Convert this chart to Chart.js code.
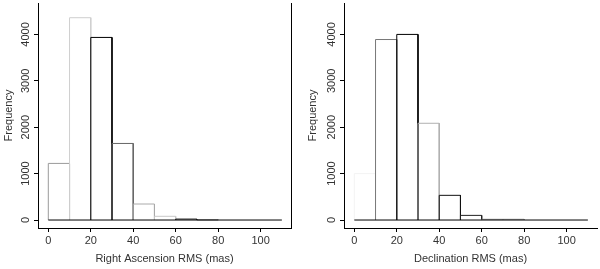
<!DOCTYPE html>
<html>
<head>
  <title>RMS histograms</title>
  <script src="https://cdn.jsdelivr.net/npm/chart.js@4.4.0/dist/chart.umd.min.js"></script>
  <style>
    body { margin: 0; background: #fff; }
    .wrap { display: flex; width: 600px; height: 269px; }
    .box { position: relative; width: 300px; height: 269px; }
  </style>
</head>
<body>
  <div class="wrap">
    <div class="box"><canvas id="ra"></canvas></div>
    <div class="box"><canvas id="dec"></canvas></div>
  </div>

  <script>
// histogram bins (mas) and counts
var binEdges = [0, 10, 20, 30, 40, 50, 60, 70, 80, 90, 100, 110];
var raCounts = [1220, 4360, 3935, 1650, 345, 80, 20, 3, 0, 0, 0];
var decCounts = [1000, 3890, 4000, 2085, 532, 100, 15, 15, 0, 0, 0];

// outline shade of each bar as it shows in the picture
var raEdgeColors = ["#9a9a9a", "#cfcfcf", "#000000", "#666666", "#aaaaaa", "#c8c8c8", "#111111", "#555555", "#000", "#000", "#000"];
var decEdgeColors = ["#f3f3f3", "#777777", "#000000", "#b0b0b0", "#111111", "#222222", "#888888", "#888888", "#000", "#000", "#000"];

var xTicks = [0, 20, 40, 60, 80, 100];
var yTicks = [0, 1000, 2000, 3000, 4000];

var FONT = "'Liberation Sans', Arial, sans-serif";
var TEXT = "#333";

// draws the rotated y tick labels the way R does
var yLabelPlugin = {
  id: "yLabels",
  afterDraw: function(chart) {
    var s = chart.scales.y;
    var ctx = chart.ctx;
    ctx.save();
    ctx.font = "11px " + FONT;
    ctx.fillStyle = TEXT;
    ctx.textAlign = "center";
    ctx.textBaseline = "middle";
    yTicks.forEach(function(v) {
      var y = s.getPixelForValue(v);
      ctx.save();
      ctx.translate(s.right - 12, y);
      ctx.rotate(-Math.PI / 2);
      ctx.fillText(String(v), 0, 0);
      ctx.restore();
    });
    ctx.restore();
  }
};

function makeHist(id, counts, colors, title, axisLeft, rightBorder, yTitlePad) {
  var datasets = [];
  for (var i = 0; i < counts.length; i++) {
    if (counts[i] <= 0) continue;
    var x0 = binEdges[i], x1 = binEdges[i + 1];
    datasets.push({
      data: [{ x: x0, y: 0 }, { x: x0, y: counts[i] }, { x: x1, y: counts[i] }, { x: x1, y: 0 }],
      borderColor: colors[i],
      borderWidth: 1,
      pointRadius: 0,
      fill: false,
      tension: 0,
      order: -i
    });
  }
  // baseline under the bars
  datasets.push({
    data: [{ x: binEdges[0], y: 0 }, { x: binEdges[binEdges.length - 1], y: 0 }],
    borderColor: "#000",
    borderWidth: 1,
    pointRadius: 0,
    fill: false,
    order: -100
  });

  return new Chart(document.getElementById(id), {
    type: "line",
    data: { datasets: datasets },
    plugins: [yLabelPlugin],
    options: {
      responsive: true,
      maintainAspectRatio: false,
      animation: false,
      layout: { padding: { top: 3, left: 0, right: 0, bottom: 0 } },
      plugins: { legend: { display: false }, tooltip: { enabled: false } },
      scales: {
        x: {
          type: "linear",
          min: -4.85,
          max: 114.3,
          afterBuildTicks: function(s) { s.ticks = xTicks.map(function(v) { return { value: v }; }); },
          afterFit: function(s) { s.height = 41; },
          grid: { display: true, drawOnChartArea: false, drawTicks: true, tickLength: 4, color: "#000" },
          border: { display: true, color: "#000", width: 1 },
          ticks: { font: { size: 11, family: FONT }, color: TEXT, padding: 2, maxRotation: 0 },
          title: { display: true, text: title, font: { size: 11, family: FONT }, color: TEXT, padding: { top: 0, bottom: 3 } }
        },
        y: {
          type: "linear",
          min: -172,
          max: 4677,
          afterBuildTicks: function(s) { s.ticks = yTicks.map(function(v) { return { value: v }; }); },
          afterFit: function(s) { s.width = axisLeft; },
          grid: { display: true, drawOnChartArea: false, drawTicks: true, tickLength: 4, color: "#000" },
          border: { display: true, color: "#000", width: 1 },
          ticks: { display: false },
          title: { display: true, text: "Frequency", font: { size: 11, family: FONT }, color: TEXT, padding: { top: yTitlePad, bottom: 0 } }
        },
        y2: {
          type: "linear",
          position: "right",
          min: -172,
          max: 4677,
          afterFit: function(s) { s.width = 300 - axisLeft - 253; },
          grid: { display: false },
          border: { display: rightBorder, color: "#000", width: 1 },
          ticks: { display: false }
        }
      }
    }
  });
}

makeHist("ra", raCounts, raEdgeColors, "Right Ascension RMS (mas)", 38, true, 2);
makeHist("dec", decCounts, decEdgeColors, "Declination RMS (mas)", 44, false, 6);
  </script>
</body>
</html>
